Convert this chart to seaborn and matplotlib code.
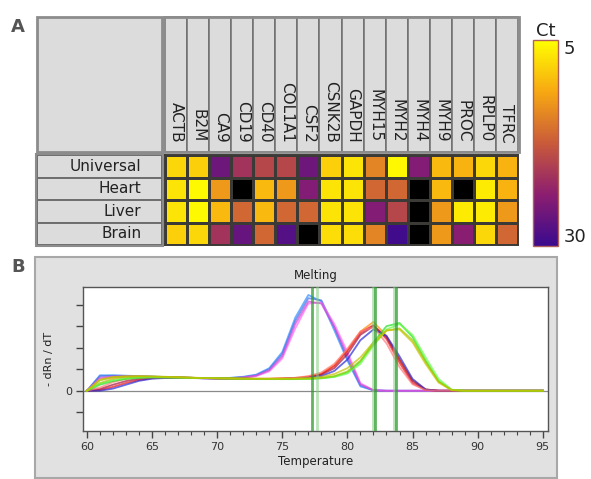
import numpy as np
import pandas as pd
import matplotlib
matplotlib.use("Agg")
import matplotlib.pyplot as plt
from matplotlib.colors import LinearSegmentedColormap
from matplotlib.patches import Rectangle
from matplotlib.ticker import MultipleLocator
import seaborn as sns

# --- PANEL A DATA: Ct per tissue / gene (nan = not detected, shown black) ---
nan = np.nan
GENES = ["ACTB", "B2M", "CA9", "CD19", "CD40", "COL1A1", "CSF2", "CSNK2B",
         "GAPDH", "MYH15", "MYH2", "MYH4", "MYH9", "PROC", "RPLP0", "TFRC"]
TISSUES = ["Universal", "Heart", "Liver", "Brain"]
CT_UNIVERSAL = [8, 8.5, 26, 21.5, 19.5, 19.5, 26, 8.5, 7, 14, 5.5, 24.5, 10, 10.5, 8, 10.5]
CT_HEART = [7, 5.5, 12.5, nan, 10, 12.5, 24.5, 7, 7, 16.5, 16.5, nan, 10, nan, 6.5, 10.5]
CT_LIVER = [7, 5.5, 10, 16.5, 10, 16.5, 16.5, 7, 7, 24.5, 19.5, nan, 12.5, 6.5, 6.5, 12.5]
CT_BRAIN = [8.5, 8, 21.5, 26.5, 16.5, 28, nan, 7.5, 7.5, 14, 29.5, nan, 12.5, 24, 8, 16.5]
CT_MIN, CT_MAX = 5, 30
CT_COLORS = ["#ffff00", "#f7a812", "#c95a3a", "#8c1e70", "#3a0a8e"]

# --- PANEL B DATA: melt curves (-dRn/dT), one value per degree 60..95 ---
TEMPS = [60, 61, 62, 63, 64, 65, 66, 67, 68, 69, 70, 71, 72, 73, 74, 75, 76, 77,
         78, 79, 80, 81, 82, 83, 84, 85, 86, 87, 88, 89, 90, 91, 92, 93, 94, 95]
BLUE_A = [0, 0.72, 0.72, 0.70, 0.68, 0.66, 0.64, 0.62, 0.60, 0.58, 0.58, 0.60, 0.65, 0.75, 1.05, 1.80, 3.40, 4.45,
          4.15, 2.80, 1.40, 0.20, 0.02, 0, 0, 0, 0, 0, 0, 0, 0, 0, 0, 0, 0, 0]
BLUE_B = [0, 0.68, 0.70, 0.69, 0.67, 0.65, 0.63, 0.61, 0.60, 0.58, 0.58, 0.59, 0.63, 0.72, 1.00, 1.70, 3.25, 4.30,
          4.20, 2.95, 1.50, 0.25, 0.02, 0, 0, 0, 0, 0, 0, 0, 0, 0, 0, 0, 0, 0]
PINK_A = [0, 0.55, 0.64, 0.66, 0.66, 0.65, 0.63, 0.61, 0.60, 0.58, 0.57, 0.58, 0.61, 0.68, 0.90, 1.50, 2.90, 4.05,
          4.10, 3.10, 1.80, 0.35, 0.03, 0, 0, 0, 0, 0, 0, 0, 0, 0, 0, 0, 0, 0]
PINK_B = [0, 0.60, 0.66, 0.67, 0.66, 0.65, 0.63, 0.61, 0.59, 0.58, 0.57, 0.58, 0.62, 0.70, 0.95, 1.60, 3.10, 4.15,
          4.05, 2.95, 1.65, 0.30, 0.02, 0, 0, 0, 0, 0, 0, 0, 0, 0, 0, 0, 0, 0]
ORANGE = [0, 0.35, 0.55, 0.62, 0.64, 0.64, 0.63, 0.62, 0.60, 0.59, 0.58, 0.57, 0.56, 0.56, 0.56, 0.58, 0.60, 0.66,
          0.80, 1.20, 1.90, 2.75, 3.20, 2.55, 1.45, 0.50, 0.07, 0, 0, 0, 0, 0, 0, 0, 0, 0]
RED = [0, 0.03, 0.18, 0.36, 0.50, 0.58, 0.61, 0.61, 0.60, 0.59, 0.58, 0.57, 0.56, 0.55, 0.55, 0.56, 0.58, 0.63,
       0.78, 1.15, 1.85, 2.70, 3.05, 2.40, 1.30, 0.35, 0.04, 0, 0, 0, 0, 0, 0, 0, 0, 0]
DARK_RED = [0, 0.08, 0.28, 0.45, 0.56, 0.60, 0.61, 0.61, 0.60, 0.59, 0.58, 0.57, 0.56, 0.55, 0.55, 0.56, 0.58, 0.62,
            0.74, 1.05, 1.70, 2.60, 3.00, 2.50, 1.45, 0.45, 0.05, 0, 0, 0, 0, 0, 0, 0, 0, 0]
DARK_BLUE = [0, 0.00, 0.10, 0.28, 0.46, 0.56, 0.59, 0.59, 0.59, 0.58, 0.57, 0.56, 0.56, 0.55, 0.55, 0.55, 0.57, 0.60,
             0.68, 0.92, 1.45, 2.35, 2.85, 2.55, 1.60, 0.55, 0.06, 0, 0, 0, 0, 0, 0, 0, 0, 0]
SALMON = [0, 0.15, 0.40, 0.55, 0.61, 0.62, 0.62, 0.61, 0.60, 0.59, 0.58, 0.57, 0.56, 0.56, 0.56, 0.57, 0.60, 0.68,
          0.85, 1.25, 1.95, 2.75, 2.95, 2.20, 1.10, 0.30, 0.03, 0, 0, 0, 0, 0, 0, 0, 0, 0]
GREEN = [0, 0.28, 0.45, 0.55, 0.60, 0.62, 0.62, 0.61, 0.60, 0.59, 0.58, 0.57, 0.56, 0.55, 0.54, 0.54, 0.54, 0.55,
         0.58, 0.66, 0.85, 1.35, 2.25, 3.00, 3.15, 2.50, 1.40, 0.45, 0.04, 0, 0, 0, 0, 0, 0, 0]
LIME = [0, 0.35, 0.50, 0.58, 0.62, 0.63, 0.62, 0.61, 0.60, 0.59, 0.58, 0.57, 0.56, 0.55, 0.55, 0.55, 0.55, 0.56,
        0.58, 0.64, 0.80, 1.25, 2.10, 2.85, 3.10, 2.60, 1.55, 0.55, 0.05, 0, 0, 0, 0, 0, 0, 0]
YELLOW_GREEN = [0, 0.48, 0.62, 0.66, 0.67, 0.66, 0.64, 0.62, 0.60, 0.59, 0.58, 0.57, 0.56, 0.55, 0.55, 0.55, 0.55, 0.56,
                0.59, 0.68, 0.90, 1.40, 2.15, 2.80, 2.90, 2.35, 1.35, 0.42, 0.03, 0, 0, 0, 0, 0, 0, 0]
OLIVE = [0, 0.52, 0.64, 0.67, 0.68, 0.67, 0.65, 0.63, 0.61, 0.59, 0.58, 0.57, 0.56, 0.56, 0.56, 0.56, 0.57, 0.59,
         0.64, 0.78, 1.05, 1.55, 2.25, 2.80, 2.85, 2.25, 1.25, 0.38, 0.03, 0, 0, 0, 0, 0, 0, 0]
CURVES = {"blue_a": BLUE_A, "blue_b": BLUE_B, "pink_a": PINK_A, "pink_b": PINK_B,
          "orange": ORANGE, "red": RED, "dark_red": DARK_RED, "dark_blue": DARK_BLUE, "salmon": SALMON,
          "green": GREEN, "lime": LIME, "yellow_green": YELLOW_GREEN, "olive": OLIVE}
CURVE_COLORS = {"blue_a": "#2f8fff", "blue_b": "#4a6ee8", "pink_a": "#ff66ff", "pink_b": "#d24ad2",
                "orange": "#ff8a00", "red": "#ee1111", "dark_red": "#a8103c", "dark_blue": "#2a2ad8",
                "salmon": "#ff7a7a", "green": "#22dd22", "lime": "#66ff44", "yellow_green": "#9acd00",
                "olive": "#c8c000"}
TM_MAIN = [77.3, 82.1, 83.7]      # called melt peaks (dark lines)
TM_SHADOW = [77.65, 81.95, 83.55]  # lighter companion lines

# --- LAYOUT (pixels) ---
W, H = 591, 479


def fig_rect(x0, y0, x1, y1):
    return [x0 / W, 1 - y1 / H, (x1 - x0) / W, (y1 - y0) / H]


fig = plt.figure(figsize=(W / 100, H / 100), dpi=100)
bg = fig.add_axes([0, 0, 1, 1])
bg.set_xlim(0, W)
bg.set_ylim(H, 0)
bg.axis("off")

BOX = "#dcdcdc"
EDGE = "#6e6e6e"

# panel letters
bg.text(11, 27, "A", fontsize=13, fontweight="bold", color="#555555", va="center")
bg.text(11, 267, "B", fontsize=13, fontweight="bold", color="#555555", va="center")

# --- PANEL A: table frame ---
hx0, hx1 = 165, 518
cy0, cy1 = 155, 245
bg.add_patch(Rectangle((37, 17), 125, 135, facecolor=BOX, edgecolor="#8c8c8c", lw=2))
col_w = (hx1 - hx0) / len(GENES)
for i in range(len(GENES)):
    bg.add_patch(Rectangle((hx0 + i * col_w, 17), col_w, 135, facecolor=BOX, edgecolor=EDGE, lw=1.1))
bg.add_patch(Rectangle((hx0 - 1, 17), hx1 - hx0 + 2, 135, facecolor="none", edgecolor="#8c8c8c", lw=2))
row_h = (cy1 - cy0) / len(TISSUES)
for j in range(len(TISSUES)):
    bg.add_patch(Rectangle((37, cy0 + j * row_h), 125, row_h, facecolor=BOX, edgecolor=EDGE, lw=1.4))
bg.add_patch(Rectangle((36, cy0 - 1), 127, cy1 - cy0 + 2, facecolor="none", edgecolor="#8c8c8c", lw=1.5))

ct = pd.DataFrame([CT_UNIVERSAL, CT_HEART, CT_LIVER, CT_BRAIN], index=TISSUES, columns=GENES)
cmap = LinearSegmentedColormap.from_list("ct", CT_COLORS)

axh = fig.add_axes(fig_rect(hx0, cy0, hx1, cy1))
cax = fig.add_axes(fig_rect(533, 40, 558, 246))
sns.heatmap(ct, ax=axh, cmap=cmap, vmin=CT_MIN, vmax=CT_MAX, linewidths=0.9,
            linecolor="#3c3a36", cbar_ax=cax, xticklabels=GENES, yticklabels=TISSUES)
axh.set_facecolor("black")
for s in axh.spines.values():
    s.set_visible(True)
    s.set_color("#3c3a36")
    s.set_linewidth(1.4)
axh.xaxis.tick_top()
axh.set_xticklabels(GENES, rotation=270, ha="center", va="bottom", fontsize=11, color="#222222")
axh.set_yticklabels(TISSUES, rotation=0, ha="right", va="center", fontsize=11, color="#222222")
axh.tick_params(axis="x", length=0, pad=9)
axh.tick_params(axis="y", length=0, pad=17)
axh.set_xlabel("")
axh.set_ylabel("")

cbar = axh.collections[0].colorbar
cax.invert_yaxis()
cbar.set_ticks([CT_MIN, CT_MAX])
cbar.set_ticklabels([str(CT_MIN), str(CT_MAX)])
cax.tick_params(length=0, labelsize=13, pad=4, colors="#222222")
tl = cax.get_yticklabels()
tl[0].set_va("top")
tl[1].set_va("bottom")
cbar.outline.set_edgecolor("#b06058")
cbar.outline.set_linewidth(1)
cax.set_title("Ct", fontsize=13, pad=3, color="#222222")

# --- PANEL B: melt curve ---
bg.add_patch(Rectangle((35, 257), 522, 221, facecolor="#e1e1e1", edgecolor="#a8a8a8", lw=1.5))

rows = []
for name, vals in CURVES.items():
    for t, v in zip(TEMPS, vals):
        rows.append({"temperature": t, "signal": v, "well": name})
melt = pd.DataFrame(rows)

axb = fig.add_axes(fig_rect(83, 287, 548, 431))
axb.set_facecolor("white")
axb.axhline(0, color="#8a8a8a", lw=0.9, zorder=1)
sns.lineplot(data=melt, x="temperature", y="signal", hue="well", palette=CURVE_COLORS,
             estimator=None, legend=False, linewidth=1.3, alpha=0.7, ax=axb, zorder=2)
for t in TM_SHADOW:
    axb.axvline(t, color="#7fcf7f", lw=2, alpha=0.55, zorder=3)
for t in TM_MAIN:
    axb.axvline(t, color="#2e9a2e", lw=2, alpha=0.75, zorder=3)

axb.set_xlim(59.7, 95.4)
axb.set_ylim(-1.87, 4.82)
axb.xaxis.set_major_locator(MultipleLocator(5))
axb.xaxis.set_minor_locator(MultipleLocator(1))
axb.set_yticks([-1, 0, 1, 2, 3, 4])
axb.set_yticklabels(["", "0", "", "", "", ""])
axb.tick_params(axis="both", which="major", direction="out", length=5, width=1,
                color="#444444", labelsize=8, labelcolor="#333333", pad=3)
axb.tick_params(axis="x", which="minor", direction="out", length=3, width=0.8, color="#444444")
for s in axb.spines.values():
    s.set_color("#555555")
    s.set_linewidth(1)
axb.set_title("Melting", fontsize=8.5, pad=6, color="#222222")
axb.set_xlabel("Temperature", fontsize=8.5, labelpad=2, color="#222222")
axb.set_ylabel("- dRn / dT", fontsize=8, labelpad=8, color="#222222")

fig.savefig("out.png", dpi=100)
